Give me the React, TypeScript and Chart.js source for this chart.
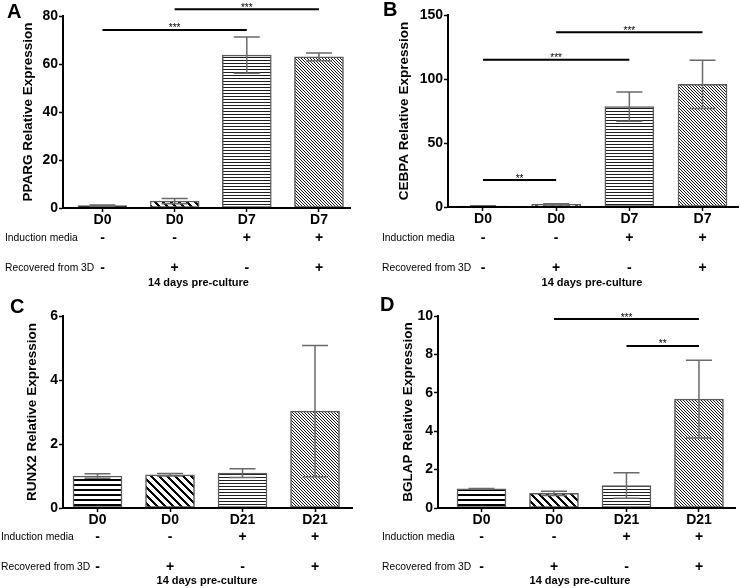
import React, { useEffect, useRef } from 'react';
import { Chart, registerables } from 'chart.js';

Chart.register(...registerables);

const FONT = '"Liberation Sans", Arial, Helvetica, sans-serif';

// ---- shared labels ----
const categoriesAdipo = ['D0', 'D0', 'D7', 'D7'];
const categoriesOsteo = ['D0', 'D0', 'D21', 'D21'];
const inductionMedia = ['-', '-', '+', '+'];
const recoveredFrom3D = ['-', '+', '-', '+'];
const rowLabelInduction = 'Induction media';
const rowLabelRecovered = 'Recovered from 3D';
const footerLabel = '14 days pre-culture';

type Sig = { from: number; to: number; y: number; label: string };

// ---- Panel A: PPARG ----
const ppargValues = [1.0, 2.9, 63.7, 63.0];
const ppargErrors = [0.3, 1.1, 7.6, 1.6];
const ppargTicks = [0, 20, 40, 60, 80];
const ppargSig: Sig[] = [
  { from: 0, to: 2, y: 74.2, label: '***' },
  { from: 1, to: 3, y: 82.8, label: '***' },
];

// ---- Panel B: CEBPA ----
const cebpaValues = [0.7, 2.0, 78.4, 95.8];
const cebpaErrors = [0.2, 0.5, 11.4, 18.8];
const cebpaTicks = [0, 50, 100, 150];
const cebpaSig: Sig[] = [
  { from: 0, to: 1, y: 21, label: '**' },
  { from: 0, to: 2, y: 115, label: '***' },
  { from: 1, to: 3, y: 136.5, label: '***' },
];

// ---- Panel C: RUNX2 ----
const runx2Values = [1.0, 1.04, 1.09, 3.03];
const runx2Errors = [0.07, 0.04, 0.14, 2.05];
const runx2Ticks = [0, 2, 4, 6];
const runx2Sig: Sig[] = [];

// ---- Panel D: BGLAP ----
const bglapValues = [1.0, 0.76, 1.17, 5.67];
const bglapErrors = [0.02, 0.11, 0.66, 2.02];
const bglapTicks = [0, 2, 4, 6, 8, 10];
const bglapSig: Sig[] = [
  { from: 1, to: 3, y: 9.84, label: '***' },
  { from: 2, to: 3, y: 8.44, label: '**' },
];

interface PanelSpec {
  letter: string;
  title: string;
  categories: string[];
  values: number[];
  errors: number[];
  ticks: number[];
  sig: Sig[];
  box: { left: number; top: number; width: number; height: number };
  area: { l: number; t: number; r: number; b: number };
  xRange: [number, number];
  letterPos: [number, number];
  titlePad: number;
  rowLabelX: number;
  rowY: [number, number, number];
  footerX: number;
}

const panels: PanelSpec[] = [
  {
    letter: 'A', title: 'PPARG Relative Expression', categories: categoriesAdipo,
    values: ppargValues, errors: ppargErrors, ticks: ppargTicks, sig: ppargSig,
    box: { left: 0, top: 0, width: 370, height: 294 },
    area: { l: 63, t: 16, r: 350, b: 208 },
    xRange: [-0.547, 3.43], letterPos: [7, 18], titlePad: 20,
    rowLabelX: 5, rowY: [238, 268, 283], footerX: 198.5,
  },
  {
    letter: 'B', title: 'CEBPA Relative Expression', categories: categoriesAdipo,
    values: cebpaValues, errors: cebpaErrors, ticks: cebpaTicks, sig: cebpaSig,
    box: { left: 370, top: 0, width: 371, height: 294 },
    area: { l: 78, t: 15, r: 368, b: 207 },
    xRange: [-0.478, 3.485], letterPos: [13, 16], titlePad: 26.5,
    rowLabelX: 12, rowY: [238, 268, 283], footerX: 222,
  },
  {
    letter: 'C', title: 'RUNX2 Relative Expression', categories: categoriesOsteo,
    values: runx2Values, errors: runx2Errors, ticks: runx2Ticks, sig: runx2Sig,
    box: { left: 0, top: 294, width: 370, height: 294 },
    area: { l: 63, t: 22, r: 352, b: 214 },
    xRange: [-0.476, 3.51], letterPos: [10, 19], titlePad: 24.5,
    rowLabelX: 1, rowY: [243, 273, 287], footerX: 207,
  },
  {
    letter: 'D', title: 'BGLAP Relative Expression', categories: categoriesOsteo,
    values: bglapValues, errors: bglapErrors, ticks: bglapTicks, sig: bglapSig,
    box: { left: 370, top: 294, width: 371, height: 294 },
    area: { l: 68, t: 22, r: 365, b: 214 },
    xRange: [-0.6, 3.497], letterPos: [10, 17], titlePad: 30,
    rowLabelX: 12, rowY: [243, 273, 287], footerX: 210,
  },
];

function makePattern(ctx: CanvasRenderingContext2D, kind: string): CanvasPattern | string {
  const c = document.createElement('canvas');
  let size = 4;
  let dark: (x: number, y: number) => boolean = () => false;
  let col = [0, 0, 0];
  if (kind === 'thickH') { size = 5; dark = (_x, y) => y < 2; col = [0, 0, 0]; }
  else if (kind === 'thickD') { size = 8; dark = (x, y) => (((x - y) % 8) + 8) % 8 < 3; col = [0, 0, 0]; }
  else if (kind === 'thinH') { size = 3; dark = (_x, y) => y === 0; col = [30, 30, 30]; }
  else if (kind === 'thinD') { size = 3; dark = (x, y) => (((x - y) % 3) + 3) % 3 === 0; col = [20, 20, 20]; }
  c.width = size; c.height = size;
  const cx = c.getContext('2d')!;
  const img = cx.createImageData(size, size);
  for (let y = 0; y < size; y++) {
    for (let x = 0; x < size; x++) {
      const k = (y * size + x) * 4;
      const d = dark(x, y);
      img.data[k] = d ? col[0] : 255;
      img.data[k + 1] = d ? col[1] : 255;
      img.data[k + 2] = d ? col[2] : 255;
      img.data[k + 3] = 255;
    }
  }
  cx.putImageData(img, 0, 0);
  return ctx.createPattern(c, 'repeat') || '#fff';
}

function Panel({ spec }: { spec: PanelSpec }) {
  const ref = useRef<HTMLCanvasElement | null>(null);
  useEffect(() => {
    const canvas = ref.current;
    if (!canvas) return;
    const ctx = canvas.getContext('2d')!;
    const fills = ['thickH', 'thickD', 'thinH', 'thinD'].map((k) => makePattern(ctx, k));
    const { area, box } = spec;

    const overlay = {
      id: 'panelOverlay' + spec.letter,
      afterDatasetsDraw(chart: any) {
        const c = chart.ctx;
        const meta = chart.getDatasetMeta(0);
        const ys = chart.scales.y;
        c.save();
        c.strokeStyle = '#6a6a6a';
        c.lineWidth = 1.5;
        spec.values.forEach((v, i) => {
          const x = meta.data[i].x;
          const yHi = ys.getPixelForValue(v + spec.errors[i]);
          const yLo = ys.getPixelForValue(Math.max(0, v - spec.errors[i]));
          c.beginPath();
          c.moveTo(x, yHi); c.lineTo(x, yLo);
          c.moveTo(x - 13, yHi); c.lineTo(x + 13, yHi);
          c.moveTo(x - 13, yLo); c.lineTo(x + 13, yLo);
          c.stroke();
        });
        c.restore();
      },
      afterDraw(chart: any) {
        const c = chart.ctx;
        const xs = chart.scales.x;
        const ys = chart.scales.y;
        c.save();
        // significance brackets
        spec.sig.forEach((s) => {
          const x1 = xs.getPixelForValue(s.from);
          const x2 = xs.getPixelForValue(s.to);
          const y = ys.getPixelForValue(s.y);
          c.strokeStyle = '#000';
          c.lineWidth = 2;
          c.beginPath();
          c.moveTo(x1, y); c.lineTo(x2, y);
          c.stroke();
          c.fillStyle = '#000';
          c.font = `10px ${FONT}`;
          c.textAlign = 'center';
          c.textBaseline = 'alphabetic';
          c.fillText(s.label, (x1 + x2) / 2, y + 1.5);
        });
        // panel letter
        c.fillStyle = '#000';
        c.font = `bold 20px ${FONT}`;
        c.textAlign = 'left';
        c.textBaseline = 'alphabetic';
        c.fillText(spec.letter, spec.letterPos[0], spec.letterPos[1]);
        // condition rows
        c.textBaseline = 'middle';
        c.font = `10.3px ${FONT}`;
        c.fillText(rowLabelInduction, spec.rowLabelX, spec.rowY[0]);
        c.fillText(rowLabelRecovered, spec.rowLabelX, spec.rowY[1]);
        c.font = `bold 14px ${FONT}`;
        c.textAlign = 'center';
        spec.categories.forEach((_cat, i) => {
          const x = xs.getPixelForValue(i);
          c.fillText(inductionMedia[i], x, spec.rowY[0]);
          c.fillText(recoveredFrom3D[i], x, spec.rowY[1]);
        });
        c.font = `bold 11px ${FONT}`;
        c.fillText(footerLabel, spec.footerX, spec.rowY[2]);
        c.restore();
      },
    };

    const chart = new Chart(ctx, {
      type: 'bar',
      data: {
        datasets: [
          {
            data: spec.values.map((v, i) => ({ x: i, y: v })),
            backgroundColor: fills as any,
            borderColor: '#5c5c5c',
            borderWidth: 1.5,
            borderSkipped: false,
            barThickness: 49,
          },
        ],
      },
      options: {
        animation: false,
        responsive: false,
        devicePixelRatio: 1,
        layout: { padding: { left: 0, top: area.t, right: box.width - area.r, bottom: 0 } },
        plugins: { legend: { display: false }, tooltip: { enabled: false } },
        scales: {
          x: {
            type: 'linear',
            min: spec.xRange[0],
            max: spec.xRange[1],
            offset: false,
            grid: { display: true, offset: false, drawOnChartArea: false, drawTicks: true, tickLength: 4, tickColor: '#000', tickWidth: 1.5, color: '#000' },
            border: { display: true, color: '#000', width: 2, z: 1 },
            afterBuildTicks: (scale: any) => {
              scale.ticks = spec.categories.map((_c, i) => ({ value: i }));
            },
            afterFit: (scale: any) => { scale.height = box.height - area.b; },
            ticks: {
              padding: 0,
              color: '#000',
              font: { family: FONT, size: 14, weight: 'bold' },
              callback: (v: any) => spec.categories[Math.round(Number(v))] ?? '',
              maxRotation: 0,
              autoSkip: false,
            },
          },
          y: {
            type: 'linear',
            min: spec.ticks[0],
            max: spec.ticks[spec.ticks.length - 1],
            grid: { display: true, drawOnChartArea: false, drawTicks: true, tickLength: 4, tickColor: '#000', tickWidth: 1.5, color: '#000' },
            border: { display: true, color: '#000', width: 2 },
            afterBuildTicks: (scale: any) => {
              scale.ticks = spec.ticks.map((t) => ({ value: t }));
            },
            afterFit: (scale: any) => { scale.width = area.l; },
            ticks: {
              padding: 1,
              color: '#000',
              font: { family: FONT, size: 14, weight: 'bold' },
            },
            title: {
              display: true,
              text: spec.title,
              color: '#000',
              font: { family: FONT, size: 13.5, weight: 'bold' },
              padding: { top: spec.titlePad, bottom: 0 },
            },
          },
        },
      },
      plugins: [overlay],
    } as any);
    return () => chart.destroy();
  }, [spec]);

  return (
    <canvas
      ref={ref}
      width={spec.box.width}
      height={spec.box.height}
      style={{ position: 'absolute', left: spec.box.left, top: spec.box.top, width: spec.box.width, height: spec.box.height, display: 'block' }}
    />
  );
}

export default function App() {
  return (
    <div style={{ position: 'absolute', left: 0, top: 0, width: 741, height: 588, background: '#fff', overflow: 'hidden' }}>
      {panels.map((p) => (
        <Panel key={p.letter} spec={p} />
      ))}
    </div>
  );
}
